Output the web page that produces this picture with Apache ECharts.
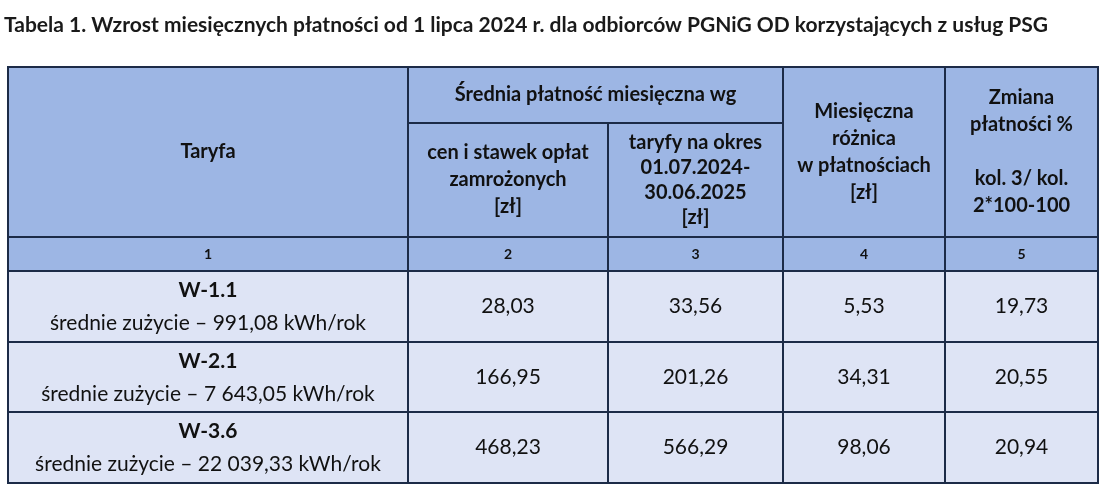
<!DOCTYPE html><html><head><meta charset="utf-8"><script src="https://cdn.jsdelivr.net/npm/echarts@6/dist/echarts.min.js"></script>
<style>html,body{margin:0;background:#fff}#c{width:1109px;height:490px}</style></head><body><div id="c"></div><script>
const title='Tabela 1. Wzrost miesięcznych płatności od 1 lipca 2024 r. dla odbiorców PGNiG OD korzystających z usług PSG';
const colNumbers=['1','2','3','4','5'];
const tariffs=['W-1.1','W-2.1','W-3.6'];
const usage=['średnie zużycie – 991,08 kWh/rok','średnie zużycie – 7 643,05 kWh/rok','średnie zużycie – 22 039,33 kWh/rok'];
const frozen=['28,03','166,95','468,23'];
const newTariff=['33,56','201,26','566,29'];
const diff=['5,53','34,31','98,06'];
const change=['19,73','20,55','20,94'];

const X=[8,408,608,783,945,1098];
const Y=[67,123,237,271,342,412,483];
const HB='#9db6e4', DB='#dee4f5', BC='#1c2b47', F='Lato, "Open Sans", sans-serif';
const els=[];
function cell(x0,y0,x1,y1,fill,text,size,bold,lh){
  els.push({type:'rect',shape:{x:x0,y:y0,width:x1-x0,height:y1-y0},style:{fill:fill,stroke:BC,lineWidth:2}});
  if(text!=null) els.push({type:'text',x:(x0+x1)/2,y:(y0+y1)/2,style:{text:text,fill:'#111',font:(bold?'bold ':'')+size+'px '+F,align:'center',verticalAlign:'middle',lineHeight:lh||size*1.35}});
}
els.push({type:'text',x:4,y:25,style:{text:title,fill:'#1a1a1a',font:'bold 21px '+F,verticalAlign:'middle'}});
cell(X[0],Y[0],X[1],Y[2],HB,'Taryfa',20,true);
cell(X[1],Y[0],X[3],Y[1],HB,'Średnia płatność miesięczna wg',20,true);
cell(X[1],Y[1],X[2],Y[2],HB,'cen i stawek opłat\nzamrożonych\n[zł]',20,true,27);
cell(X[2],Y[1],X[3],Y[2],HB,'taryfy na okres\n01.07.2024-\n30.06.2025\n[zł]',20,true,25);
cell(X[3],Y[0],X[4],Y[2],HB,'Miesięczna\nróżnica\nw płatnościach\n[zł]',20,true,27);
cell(X[4],Y[0],X[5],Y[2],HB,'Zmiana\npłatności %\n\nkol. 3/ kol.\n2*100-100',20,true,27);
colNumbers.forEach((t,i)=>cell(X[i],Y[2],X[i+1],Y[3],HB,t,14,true));
tariffs.forEach((t,r)=>{
  const y0=Y[3+r],y1=Y[4+r];
  cell(X[0],y0,X[1],y1,DB,null);
  els.push({type:'text',x:(X[0]+X[1])/2,y:y0+19,style:{text:t,fill:'#111',font:'bold 21px '+F,align:'center',verticalAlign:'middle'}});
  els.push({type:'text',x:(X[0]+X[1])/2,y:y0+52,style:{text:usage[r],fill:'#111',font:'21px '+F,align:'center',verticalAlign:'middle'}});
  [frozen,newTariff,diff,change].forEach((a,c)=>cell(X[c+1],y0,X[c+2],y1,DB,a[r],21,false));
});
const ch=echarts.init(document.getElementById('c'));
ch.setOption({backgroundColor:'#fff',graphic:{elements:els}});
</script></body></html>
